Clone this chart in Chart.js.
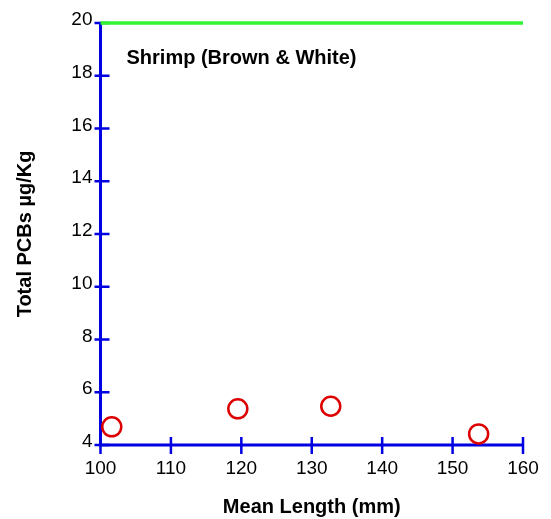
<!DOCTYPE html>
<html>
<head>
<meta charset="utf-8">
<script src="https://cdn.jsdelivr.net/npm/chart.js@4"></script>
<style>
  html, body { margin: 0; padding: 0; background: #fff; }
  #wrap { width: 551px; height: 519px; }
</style>
</head>
<body>
<div id="wrap"><canvas id="chart" width="551" height="519"></canvas></div>
<script>
'use strict';

// data
var lengths = [101.6, 119.5, 132.7, 153.7];
var pcbs = [4.69, 5.37, 5.47, 4.42];
var refX = [100, 160];
var refY = [20, 20];
var xTicks = [100, 110, 120, 130, 140, 150, 160];
var yTicks = [4, 6, 8, 10, 12, 14, 16, 18, 20];
var chartTitle = 'Shrimp (Brown & White)';
var xTitle = 'Mean Length (mm)';
var yTitle = 'Total PCBs µg/Kg';

var BLUE = '#0000e0';
var FONT = 'Arial, "Liberation Sans", sans-serif';

// axes with ticks that cross the line, like the original plot
var axesPlugin = {
  id: 'crossAxes',
  beforeDatasetsDraw: function (chart) {
    var ctx = chart.ctx;
    var xs = chart.scales.x, ys = chart.scales.y;
    var x0 = xs.getPixelForValue(xs.min), x1 = xs.getPixelForValue(xs.max);
    var y0 = ys.getPixelForValue(ys.min), y1 = ys.getPixelForValue(ys.max);
    ctx.save();
    ctx.strokeStyle = BLUE;
    ctx.lineWidth = 3;
    ctx.lineCap = 'butt';
    ctx.beginPath();
    ctx.moveTo(x0, y1); ctx.lineTo(x0, y0 + 1.5);
    ctx.moveTo(x0 - 1.5, y0); ctx.lineTo(x1 + 1, y0);
    ctx.stroke();
    ctx.lineWidth = 2.5;
    ctx.beginPath();
    xTicks.forEach(function (v) {
      var px = xs.getPixelForValue(v);
      ctx.moveTo(px, y0 - 8); ctx.lineTo(px, y0 + 9);
    });
    yTicks.forEach(function (v) {
      var py = ys.getPixelForValue(v);
      ctx.moveTo(x0 - 6, py); ctx.lineTo(x0 + 9, py);
    });
    ctx.stroke();
    ctx.restore();
  },
  afterDraw: function (chart) {
    var ctx = chart.ctx;
    ctx.save();
    ctx.fillStyle = '#000';
    ctx.font = 'bold 20px ' + FONT;
    ctx.textBaseline = 'middle';
    ctx.textAlign = 'left';
    ctx.fillText(chartTitle, chart.chartArea.left + 26, 58);
    ctx.restore();
  }
};

new Chart(document.getElementById('chart'), {
  type: 'scatter',
  data: {
    datasets: [{
      label: 'limit',
      type: 'line',
      data: refX.map(function (x, i) { return { x: x, y: refY[i] }; }),
      borderColor: '#33f533',
      borderWidth: 3.5,
      pointRadius: 0,
      fill: false,
      clip: false
    }, {
      label: 'PCBs',
      data: lengths.map(function (x, i) { return { x: x, y: pcbs[i] }; }),
      pointStyle: 'circle',
      pointRadius: 9.5,
      pointBorderWidth: 2.5,
      pointBorderColor: '#dd0000',
      pointBackgroundColor: 'rgba(255,255,255,0)',
      clip: false
    }]
  },
  options: {
    responsive: false,
    animation: false,
    devicePixelRatio: 1,
    layout: { padding: { left: 0, right: 28, top: 23, bottom: 0 } },
    plugins: { legend: { display: false }, tooltip: { enabled: false } },
    scales: {
      x: {
        type: 'linear',
        min: 100, max: 160,
        afterFit: function (s) { s.height = 74; },
        afterBuildTicks: function (s) { s.ticks = xTicks.map(function (v) { return { value: v }; }); },
        grid: { display: false, drawTicks: false },
        border: { display: false },
        ticks: { color: '#000', padding: 12, font: { family: FONT, size: 19 }, maxRotation: 0 },
        title: { display: true, text: xTitle, color: '#000', padding: { top: 0, bottom: 0 }, font: { family: FONT, size: 20, weight: 'bold' } }
      },
      y: {
        type: 'linear',
        min: 4, max: 20,
        afterFit: function (s) { s.width = 100.5; },
        afterBuildTicks: function (s) { s.ticks = yTicks.map(function (v) { return { value: v }; }); },
        grid: { display: false, drawTicks: false },
        border: { display: false },
        ticks: { color: '#000', padding: 8, labelOffset: -3, font: { family: FONT, size: 19 } },
        title: { display: true, text: yTitle, color: '#000', padding: { top: 13, bottom: 0 }, font: { family: FONT, size: 20, weight: 'bold' } }
      }
    }
  },
  plugins: [axesPlugin]
});
</script>
</body>
</html>
